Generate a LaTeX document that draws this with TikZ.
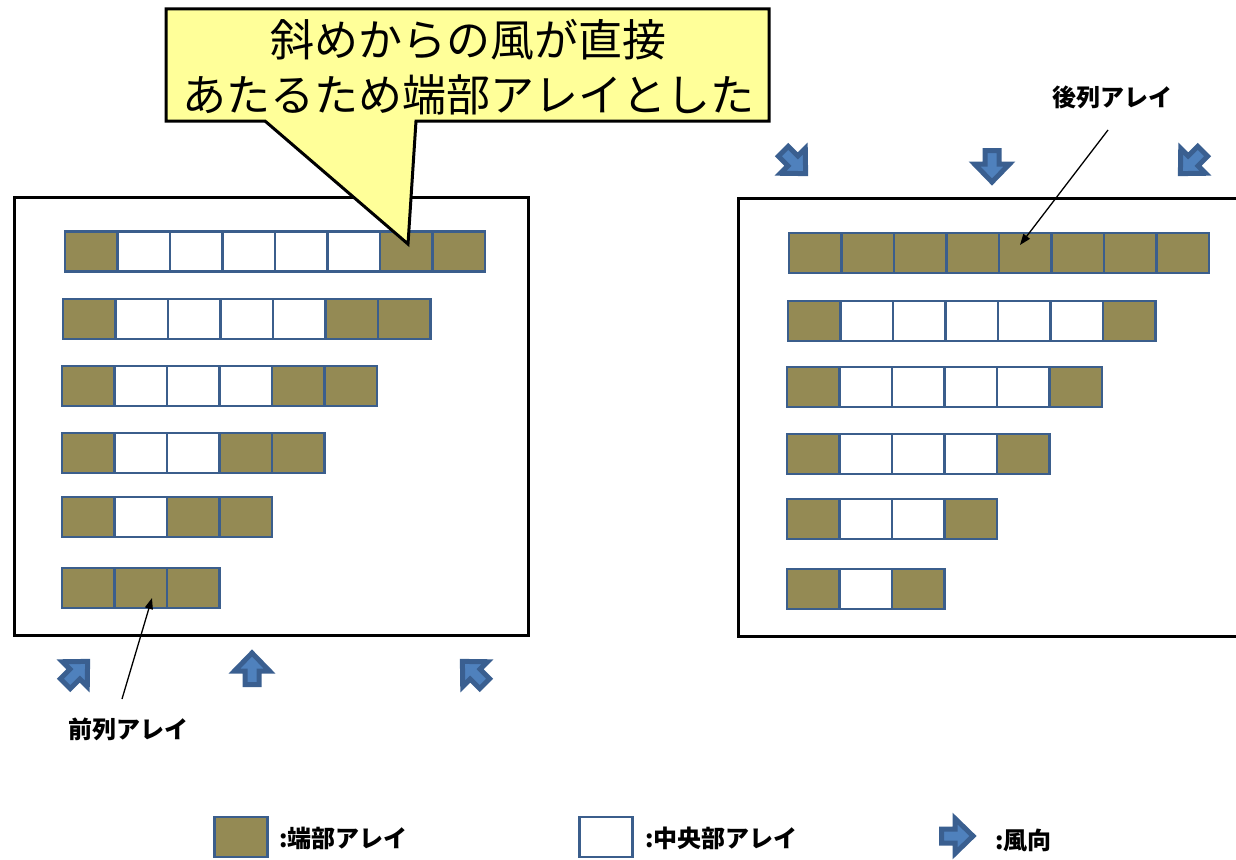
\documentclass[tikz,border=0pt]{standalone}
\usepackage{fontspec}
\setmainfont{Noto Sans CJK JP}
\usetikzlibrary{arrows.meta}
\definecolor{endc}{HTML}{948A54}
\definecolor{midc}{HTML}{FFFFFF}
\definecolor{cellblue}{HTML}{3B5E8C}
\definecolor{windfill}{HTML}{4F81BD}
\definecolor{winddraw}{HTML}{3A5F90}
\definecolor{callfill}{HTML}{FFFF99}
\tikzset{
  cell/.style={draw=cellblue, line width=2.5pt, minimum width=52.5pt, minimum height=40pt, inner sep=0pt, outer sep=0pt},
  panel/.style={draw=black, line width=3pt},
  lbl/.style={font=\bfseries\fontsize{24}{26}\selectfont, inner sep=0pt},
  ptr/.style={line width=1.3pt, -{Triangle[length=11pt,width=8pt]}},
  windarrow/.pic={\path[fill=windfill, draw=winddraw, line width=5pt, line join=miter] (0,-15) -- (17.5,3) -- (7,3) -- (7,16.5) -- (-7,16.5) -- (-7,3) -- (-17.5,3) -- cycle;}
}
\newcommand\cellrow[4]{%
  \foreach \c [count=\i] in {#4} {\node[cell, fill=\c] (#1-\i) at ({#2+26.25+52.5*(\i-1)}, #3) {};}}
\begin{document}
\begin{tikzpicture}[x=1pt,y=-1pt]
\useasboundingbox (0,0) rectangle (1236,859);
% panels
\draw[panel] (14,197) rectangle (528,635);
\draw[panel] (738,198) rectangle (1250,636);
% left rows
\cellrow{L1}{65}{251.5}{endc,midc,midc,midc,midc,midc,endc,endc}
\cellrow{L2}{63}{319}{endc,midc,midc,midc,midc,endc,endc}
\cellrow{L3}{62}{386}{endc,midc,midc,midc,endc,endc}
\cellrow{L4}{62}{453}{endc,midc,midc,endc,endc}
\cellrow{L5}{62}{517}{endc,midc,endc,endc}
\cellrow{L6}{62}{588}{endc,endc,endc}
% right rows
\cellrow{R1}{789}{253}{endc,endc,endc,endc,endc,endc,endc,endc}
\cellrow{R2}{788}{321}{endc,midc,midc,midc,midc,midc,endc}
\cellrow{R3}{787}{387}{endc,midc,midc,midc,midc,endc}
\cellrow{R4}{787}{454}{endc,midc,midc,midc,endc}
\cellrow{R5}{787}{519}{endc,midc,midc,endc}
\cellrow{R6}{787}{589}{endc,midc,endc}
% callout
\path[fill=callfill, draw=black, line width=3pt, line join=miter]
  (166,9) -- (769,9) -- (769,121) -- (416,121) -- (408,244) -- (265,121) -- (166,121) -- cycle;
\node[font=\fontsize{44}{55}\selectfont, align=center, inner sep=0pt] (callout) at (468,67)
  {斜めからの風が直接\\あたるため端部アレイとした};
% wind arrows
\pic[rotate=-45] at (77,672) {windarrow};
\pic at (252,668) {windarrow};
\pic[rotate=45] at (473,672) {windarrow};
\pic[rotate=-135] at (795,163) {windarrow};
\pic[rotate=180] at (992,167) {windarrow};
\pic[rotate=135] at (1191,163) {windarrow};
% labels and pointers
\node[lbl] (front) at (128,729) {前列アレイ};
\node[lbl] (back) at (1112,97) {後列アレイ};
\coordinate (fa) at (122,699);
\coordinate (fb) at (152,598);
\coordinate (ba) at (1108,130);
\coordinate (bb) at (1020,245);
\draw[ptr] (fa) -- (fb);
\draw[ptr] (ba) -- (bb);
% legend
\node[cell, fill=endc, minimum width=53pt] (legE) at (241,837) {};
\node[lbl, anchor=west] (legEt) at (279,838) {:端部アレイ};
\node[cell, fill=midc, minimum width=53pt] (legC) at (606,837) {};
\node[lbl, anchor=west] (legCt) at (645,838) {:中央部アレイ};
\pic[rotate=-90] at (958,836) {windarrow};
\node[lbl, anchor=west] (legWt) at (995,840) {:風向};
\end{tikzpicture}
\end{document}
